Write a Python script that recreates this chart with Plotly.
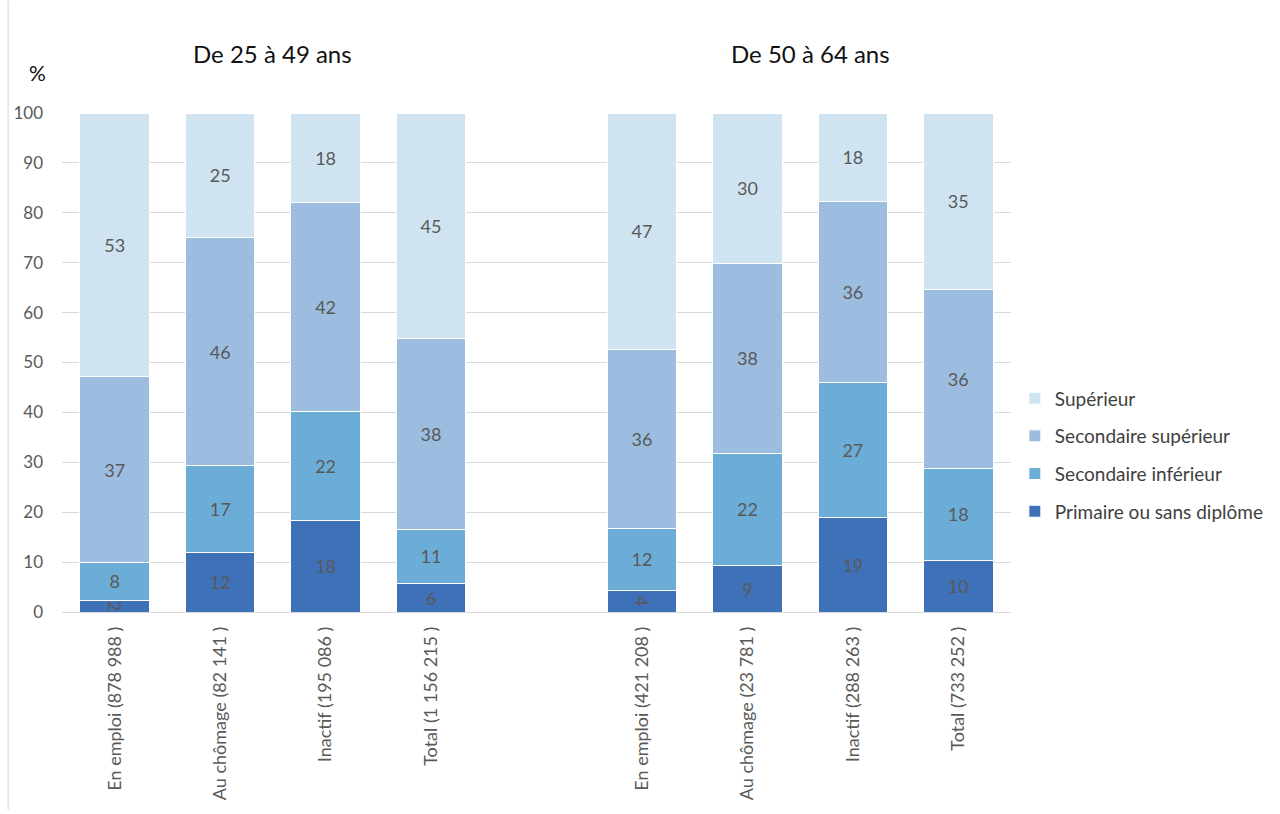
import plotly.graph_objects as go

# Categories: two age groups, four activity statuses each
categories = [
    "En emploi (878 988 )", "Au chômage (82 141 )", "Inactif (195 086 )", "Total (1 156 215 )",
    "En emploi (421 208 )", "Au chômage (23 781 )", "Inactif (288 263 )", "Total (733 252 )",
]
group_titles = ["De 25 à 49 ans", "De 50 à 64 ans"]

# Share (%) of each education level per category
primaire = [2.4, 12.0, 18.4, 5.8, 4.4, 9.4, 19.0, 10.4]
secondaire_inf = [7.6, 17.3, 21.7, 10.8, 12.4, 22.4, 26.9, 18.3]
secondaire_sup = [37.1, 45.7, 41.9, 38.3, 35.9, 38.1, 36.3, 36.0]
superieur = [52.9, 25.0, 18.0, 45.1, 47.3, 30.1, 17.8, 35.3]

series = [
    ("Primaire ou sans diplôme", primaire, "#3f71b8"),
    ("Secondaire inférieur", secondaire_inf, "#6badd6"),
    ("Secondaire supérieur", secondaire_sup, "#9dbde0"),
    ("Supérieur", superieur, "#cfe4f0"),
]

# x positions: one empty slot between the two age groups
x_pos = [0, 1, 2, 3, 5, 6, 7, 8]

FONT = "Lato, 'Open Sans', sans-serif"
GREY = "#595959"

fig = go.Figure()
n = len(series)
for i, (name, vals, color) in enumerate(series):
    fig.add_trace(go.Bar(
        x=x_pos, y=vals, name=name, legendgroup=name,
        legendrank=n - i,  # top stack segment listed first
        width=0.66,
        marker=dict(color=color, line=dict(color="white", width=1)),
        text=vals, texttemplate="%{y:.0f}",
        textposition="inside", insidetextanchor="middle",
        constraintext="none",
        textfont=dict(family=FONT, size=18, color=GREY),
        hoverinfo="skip",
    ))

fig.update_layout(
    barmode="stack",
    width=1280, height=814,
    margin=dict(l=62, r=268, t=113, b=202),
    plot_bgcolor="white", paper_bgcolor="white",
    font=dict(family=FONT, color=GREY),
    legend=dict(
        x=1.003, y=0.315, xanchor="left", yanchor="middle",
        traceorder="grouped", tracegroupgap=10,
        font=dict(family=FONT, size=19, color="#404040"),
        itemclick=False, itemdoubleclick=False,
    ),
    showlegend=True,
)

fig.update_xaxes(
    range=[-0.5, 8.5],
    tickmode="array", tickvals=x_pos, ticktext=categories,
    tickangle=-90,
    tickfont=dict(family=FONT, size=18, color=GREY),
    showgrid=False, zeroline=False,
    showline=False, ticks="",
    ticklabelstandoff=10,
)
fig.update_yaxes(
    range=[0, 100], dtick=10,
    tickfont=dict(family=FONT, size=17, color=GREY),
    showgrid=True, gridcolor="#d9d9d9", gridwidth=1,
    zeroline=True, zerolinecolor="#d9d9d9", zerolinewidth=1,
    ticks="", ticklabelstandoff=18,
)

# Group titles above each block of bars
for xc, title in zip([1.5, 6.6], group_titles):
    fig.add_annotation(
        x=xc, xref="x", y=1.12, yref="paper", yanchor="middle", text=title,
        showarrow=False, font=dict(family=FONT, size=24, color="#111111"),
    )

# Unit label above the value axis
fig.add_annotation(
    x=-0.0263, xref="paper", xanchor="center", y=1.082, yref="paper", yanchor="middle",
    text="%", showarrow=False, font=dict(family=FONT, size=21, color="#111111"),
)

# Left frame border of the chart area
fig.add_shape(
    type="line", xref="paper", yref="paper",
    x0=-0.0568, x1=-0.0568, y0=1.226, y1=-0.397,
    line=dict(color="#d9d9d9", width=1),
)

fig.write_html("out.html")
